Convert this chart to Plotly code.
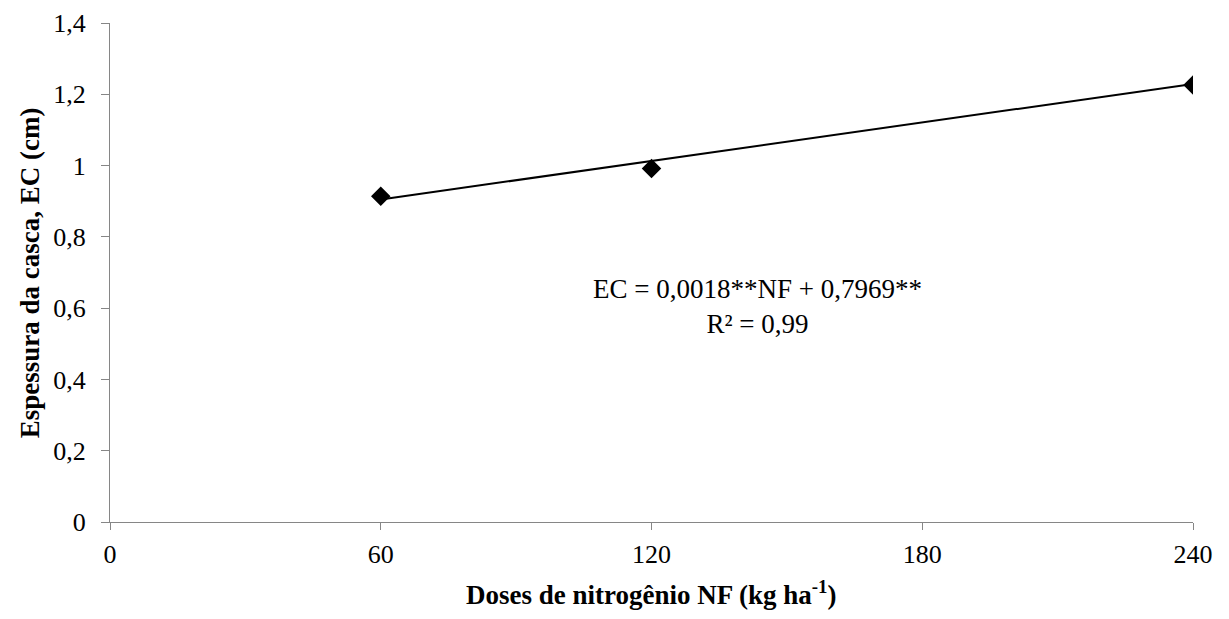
import plotly.graph_objects as go

# Nitrogen doses (kg/ha) and measured peel thickness (cm)
doses = [60, 120, 240]
thickness = [0.914, 0.992, 1.226]

# Linear fit coefficients as reported in the equation
slope = 0.0018
intercept = 0.7969
fit_x = [60, 240]
fit_y = [slope * x + intercept for x in fit_x]

x_ticks = [0, 60, 120, 180, 240]
y_ticks = [0, 0.2, 0.4, 0.6, 0.8, 1.0, 1.2, 1.4]
y_tick_labels = ["0", "0,2", "0,4", "0,6", "0,8", "1", "1,2", "1,4"]

font_family = "Liberation Serif"
axis_gray = "#868686"
tick_size = 26
text_size = 27

fig = go.Figure()

fig.add_trace(go.Scatter(
    x=fit_x, y=fit_y, mode="lines",
    line=dict(color="black", width=2),
    showlegend=False, hoverinfo="skip",
))

fig.add_trace(go.Scatter(
    x=doses, y=thickness, mode="markers",
    marker=dict(symbol="diamond", size=15, color="black"),
    showlegend=False,
))

fig.add_annotation(
    x=0.598, y=0.432, xref="paper", yref="paper",
    text="EC = 0,0018**NF + 0,7969**<br>R² = 0,99",
    showarrow=False, align="center",
    font=dict(family=font_family, size=text_size, color="black"),
)

# Axis titles placed as paper annotations for precise positioning
fig.add_annotation(
    x=0.5, y=-0.142, xref="paper", yref="paper",
    xanchor="center", yanchor="middle",
    text="<b>Doses de nitrogênio NF (kg ha<sup>-1</sup>)</b>",
    showarrow=False,
    font=dict(family=font_family, size=text_size, color="black"),
)
fig.add_annotation(
    x=-0.074, y=0.5, xref="paper", yref="paper",
    xanchor="center", yanchor="middle", textangle=-90,
    text="<b>Espessura da casca, EC (cm)</b>",
    showarrow=False,
    font=dict(family=font_family, size=text_size, color="black"),
)

fig.update_xaxes(
    range=[0, 240], tickvals=x_ticks, ticktext=[str(v) for v in x_ticks],
    showgrid=False, zeroline=False, automargin=False,
    showline=True, linecolor=axis_gray, linewidth=1.3,
    ticks="outside", tickcolor=axis_gray, ticklen=7, tickwidth=1.3,
    ticklabelstandoff=2,
    tickfont=dict(family=font_family, size=tick_size, color="black"),
)

fig.update_yaxes(
    range=[0, 1.4], tickvals=y_ticks, ticktext=y_tick_labels,
    showgrid=False, zeroline=False, automargin=False,
    showline=True, linecolor=axis_gray, linewidth=1.3,
    ticks="outside", tickcolor=axis_gray, ticklen=8, tickwidth=1.3,
    ticklabelstandoff=10,
    tickfont=dict(family=font_family, size=tick_size, color="black"),
)

fig.update_layout(
    width=1229, height=619,
    margin=dict(l=110, r=36, t=23, b=97),
    paper_bgcolor="white", plot_bgcolor="white",
    font=dict(family=font_family),
)

fig.write_html("out.html")
